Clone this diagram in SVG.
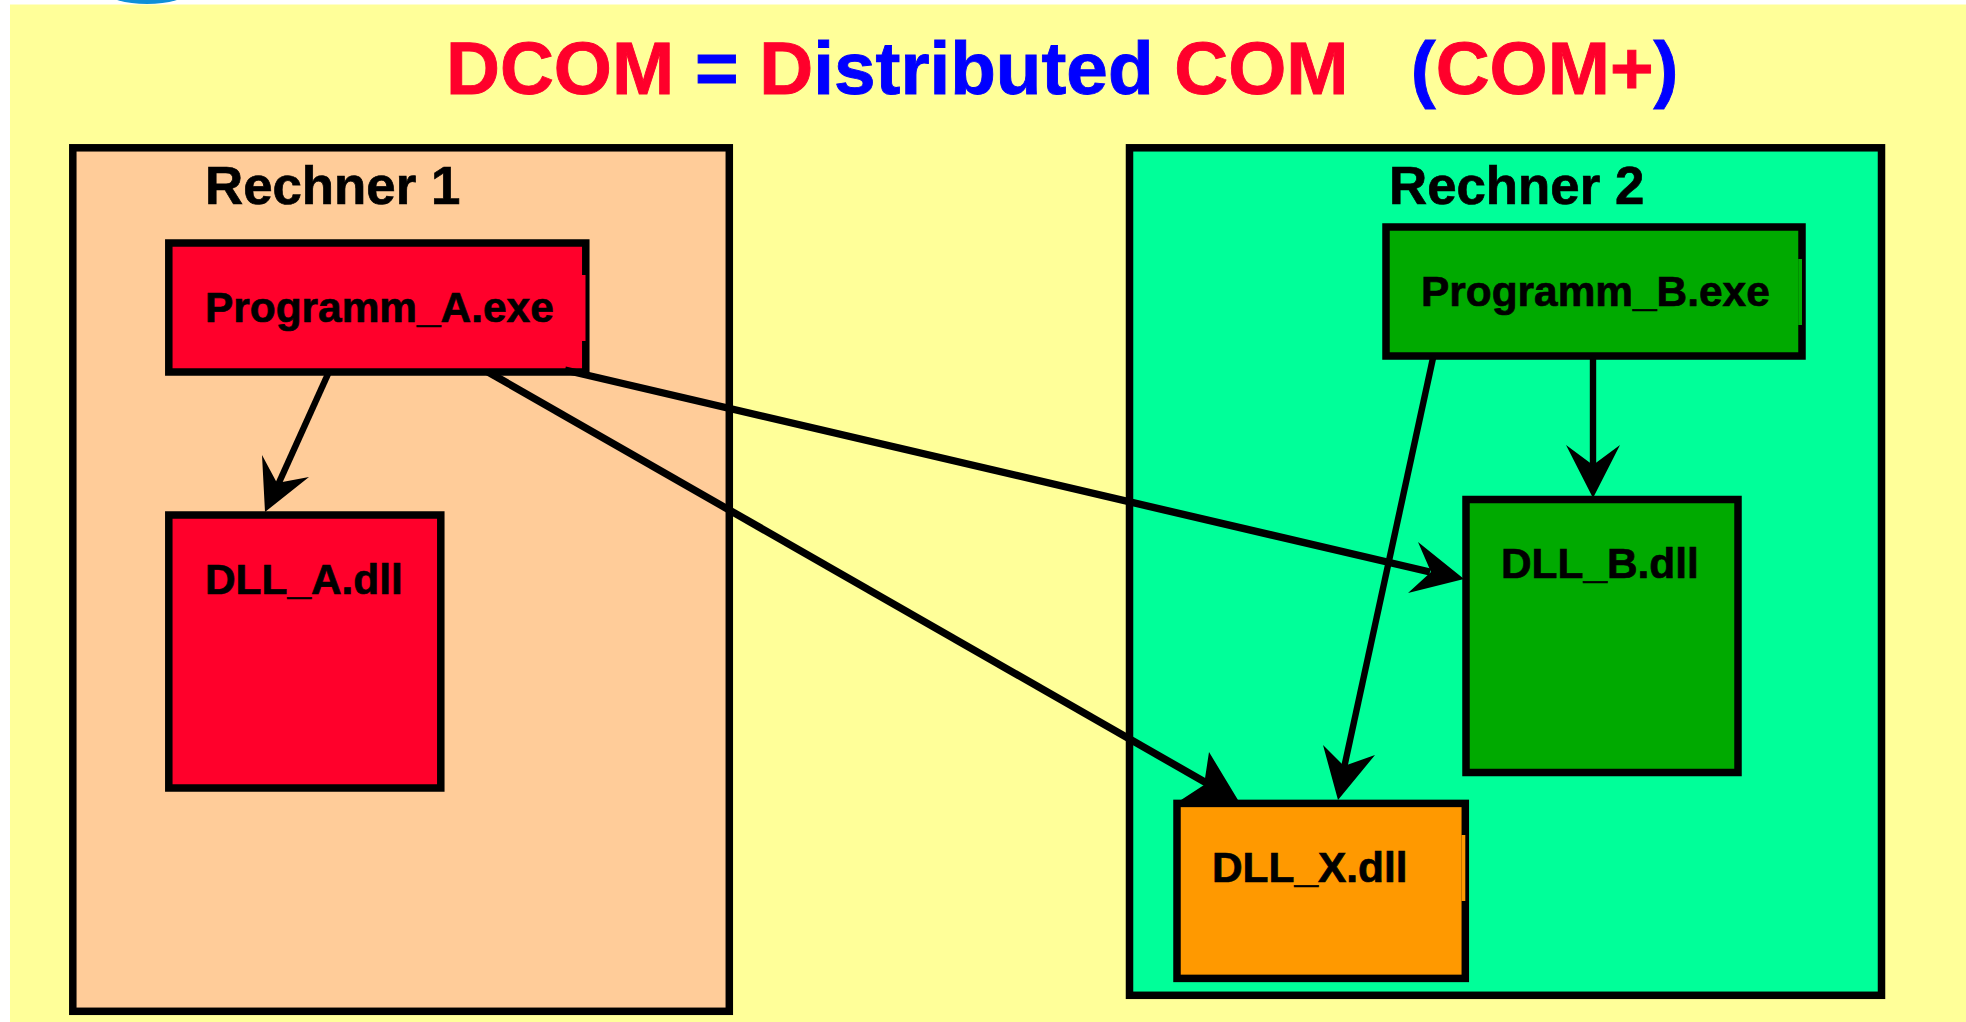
<svg xmlns="http://www.w3.org/2000/svg" width="1966" height="1022" viewBox="0 0 1966 1022">
<style>
text{font-family:"Liberation Sans",Arial,sans-serif;font-weight:700;fill:#000;stroke:#000;stroke-width:.7}
.t{font-size:74.700px;stroke-width:.9}
tspan.r{fill:#ff002b;stroke:#ff002b}
tspan.b{fill:#0000ff;stroke:#0000ff}
.h{font-size:52.800px}
.n{font-size:42.400px}
.box{stroke:#000;stroke-width:7.500}
.c{stroke:#000;stroke-width:6.400;fill:none}
.l{stroke:#000;stroke-width:7.400;fill:none}
.a{fill:#000}
</style>
<rect width="1966" height="1022" fill="#fff"/>
<ellipse cx="147" cy="-8" rx="40" ry="12" fill="#0d8fd8"/>
<rect x="10" y="4.500" width="1956" height="1017.500" fill="#ffff99"/>
<text class="t" x="446" y="94" xml:space="preserve"><tspan class="r">DCOM</tspan><tspan class="b"> = </tspan><tspan class="r">D</tspan><tspan class="b">istributed </tspan><tspan class="r">COM</tspan><tspan class="b">   (</tspan><tspan class="r">COM+</tspan><tspan class="b">)</tspan></text>
<g id="rechner1"><rect class="box" x="72.800" y="147.800" width="656.500" height="863.500" fill="#ffcc99"/><text class="h" x="205" y="204">Rechner 1</text></g>
<g id="rechner2"><rect class="box" x="1129.500" y="147.800" width="752" height="847.500" fill="#00ff99"/><text class="h" x="1389" y="204">Rechner 2</text></g>
<g id="programm-a"><rect class="box" x="168.800" y="243" width="417" height="129" fill="#ff002b"/><rect x="581.700" y="275" width="3.800" height="66" fill="#ff002b"/><text class="n" x="205" y="322">Programm_A.exe</text></g>
<g id="dll-a"><rect class="box" x="168.800" y="515" width="272" height="273" fill="#ff002b"/><text class="n" x="205" y="594">DLL_A.dll</text></g>
<g id="programm-b"><rect class="box" x="1386" y="227" width="416" height="129" fill="#00aa00"/><rect x="1798.200" y="259" width="3.800" height="66" fill="#00aa00"/><text class="n" x="1421" y="306">Programm_B.exe</text></g>
<g id="dll-b"><rect class="box" x="1466" y="499.500" width="272" height="273" fill="#00aa00"/><text class="n" x="1501" y="578">DLL_B.dll</text></g>
<g id="dll-x"><rect class="box" x="1177" y="803.400" width="288.300" height="175" fill="#ff9900"/><rect x="1461.500" y="835" width="3.800" height="66" fill="#ff9900"/><text class="n" x="1212" y="882">DLL_X.dll</text></g>
<g id="connectors">
<path class="c" d="M328 374L277 487"/><path class="a" d="M265 512L262 455L277 483L309 477Z"/>
<path class="l" d="M565 370L1430 572"/><path class="a" d="M1464 579L1408 593L1431 572L1418 542Z"/>
<path class="l" d="M488 372L1210 785"/><path class="a" d="M1238 800L1181 800L1204 785L1209 752Z"/>
<path class="c" d="M1433 358L1344 768"/><path class="a" d="M1338 800L1323 745L1344 766L1375 755Z"/>
<path class="c" d="M1593 358L1593 470"/><path class="a" d="M1593 498L1566 445L1593 465L1620 445Z"/>
</g>
</svg>
